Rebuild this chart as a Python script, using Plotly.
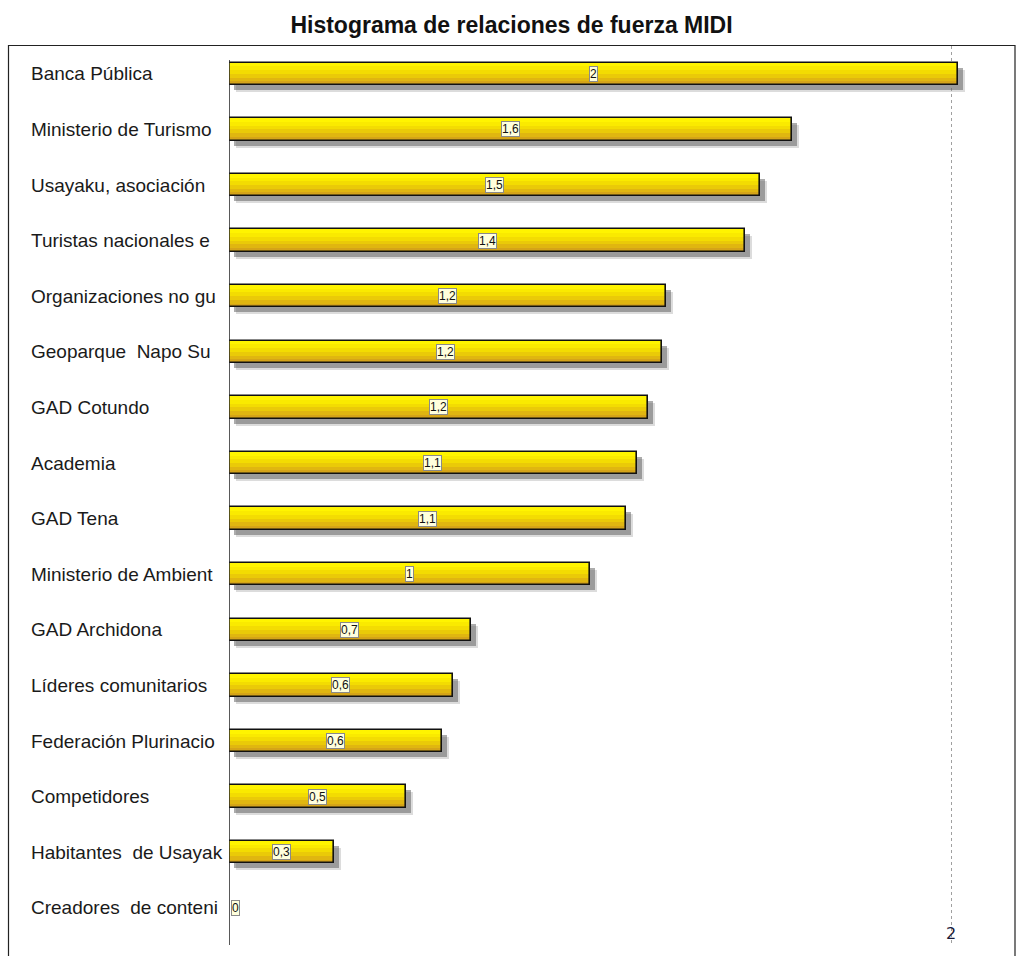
import plotly.graph_objects as go

categories = ["Banca Pública", "Ministerio de Turismo", "Usayaku, asociación",
              "Turistas nacionales e", "Organizaciones no gu", "Geoparque  Napo Su",
              "GAD Cotundo", "Academia", "GAD Tena", "Ministerio de Ambient",
              "GAD Archidona", "Líderes comunitarios", "Federación Plurinacio",
              "Competidores", "Habitantes  de Usayak", "Creadores  de conteni"]
values = [2.02, 1.56, 1.47, 1.43, 1.21, 1.20, 1.16, 1.13, 1.10, 1.00,
          0.67, 0.62, 0.59, 0.49, 0.29, 0.0]
value_labels = ["2", "1,6", "1,5", "1,4", "1,2", "1,2", "1,2", "1,1", "1,1", "1",
                "0,7", "0,6", "0,6", "0,5", "0,3", "0"]
x_ticks = [2]
x_tick_labels = ["2"]

W, H = 1023, 956
L, R, T, B = 229, 13, 46, 11
pw = W - L - R
ph = H - T - B
px_per_unit = 361.0
xmax = pw / px_per_unit
row_px = 55.6
n = len(categories)
ymax_idx = -0.5 + ph / row_px
idx = list(range(n))

def px2paper_x(px):
    return (px - L) / pw

def px2paper_y(py):
    return 1 - (py - T) / ph

fig = go.Figure()
bw = 0.4
# soft shadow (layers for a blurred look)
for dx, dy, col in [(7, 7, "rgba(140,140,140,0.3)"), (5, 5, "rgba(90,90,90,0.5)")]:
    fig.add_trace(go.Bar(y=idx, x=values, base=[dx / px_per_unit] * n, orientation="h",
                         width=bw, offset=-bw / 2 + dy / row_px,
                         marker=dict(color=col, line=dict(width=0)),
                         hoverinfo="skip", showlegend=False))
# gradient strips
strip_colors = ["#FFF400", "#FAEA00", "#F3DC02", "#EACA08", "#E0B610", "#D5A418"]
ns = len(strip_colors)
sw = bw / ns
for k, c in enumerate(strip_colors):
    fig.add_trace(go.Bar(y=idx, x=values, orientation="h", width=sw + 0.002,
                         offset=-bw / 2 + k * sw,
                         marker=dict(color=c, line=dict(width=0)),
                         hoverinfo="skip", showlegend=False))
# outline
fig.add_trace(go.Bar(y=idx, x=values, orientation="h", width=bw, offset=-bw / 2,
                     marker=dict(color="rgba(0,0,0,0)", line=dict(color="#111111", width=1.6)),
                     hoverinfo="skip", showlegend=False))

annotations = []
for i, (v, lab) in enumerate(zip(values, value_labels)):
    annotations.append(dict(x=v / 2 if v > 0 else 0.006, y=i, xref="x", yref="y",
                            text=lab, showarrow=False,
                            xanchor="center" if v > 0 else "left",
                            font=dict(family="Liberation Sans", size=12, color="#111111"),
                            bgcolor="#FFFFDC", bordercolor="#8A8A8A", borderwidth=1, borderpad=0))
    annotations.append(dict(x=px2paper_x(29), y=i, xref="paper", yref="y",
                            text=categories[i], showarrow=False, xanchor="left",
                            font=dict(family="Liberation Sans", size=19, color="#1a1a1a")))

shapes = [dict(type="rect", xref="paper", yref="paper",
               x0=px2paper_x(8.5), x1=px2paper_x(1015), y0=px2paper_y(975), y1=px2paper_y(45.5),
               line=dict(color="#222222", width=1.2), fillcolor="rgba(0,0,0,0)", layer="below")]

fig.update_layout(
    width=W, height=H,
    margin=dict(l=L, r=R, t=T, b=B),
    paper_bgcolor="white", plot_bgcolor="white",
    barmode="overlay", bargap=0,
    title=dict(text="<b>Histograma de relaciones de fuerza MIDI</b>", x=0.5, xref="container",
               xanchor="center", y=1 - 25 / H, yref="container", yanchor="middle",
               font=dict(family="Liberation Sans", size=23, color="#111111")),
    xaxis=dict(range=[0, xmax], tickvals=x_ticks, ticktext=x_tick_labels,
               showgrid=True, gridcolor="#A0A0A0", griddash="dot", gridwidth=1,
               zeroline=False, showline=False, ticks="",
               ticklabelposition="inside", tickfont=dict(family="DejaVu Sans", size=16, color="#1a1a3a"),
               fixedrange=True),
    yaxis=dict(range=[ymax_idx, -0.5], showticklabels=False, showgrid=False, zeroline=False,
               showline=False, ticks=""),
    annotations=annotations, shapes=shapes,
)
# left axis line
fig.add_shape(type="line", xref="x", yref="paper", x0=0, x1=0,
              y0=px2paper_y(945), y1=px2paper_y(60), line=dict(color="#222222", width=1.5))

fig.write_html("out.html", post_script="document.body.style.margin='0';",
               config={"displayModeBar": False})
